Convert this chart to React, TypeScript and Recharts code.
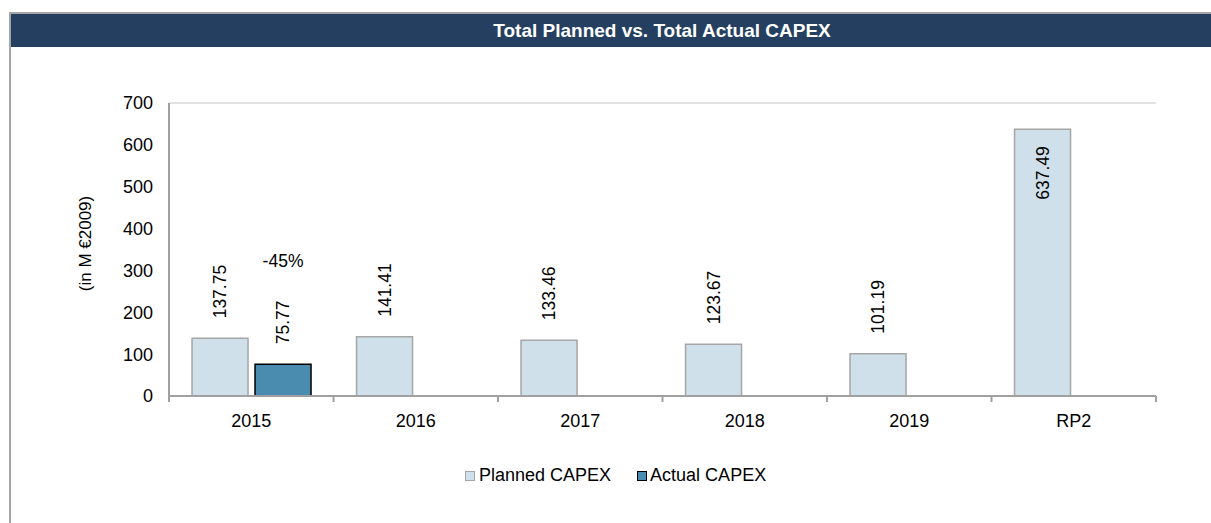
import { BarChart, Bar, XAxis, YAxis, LabelList, Legend, ReferenceLine } from 'recharts';

const categories = ['2015', '2016', '2017', '2018', '2019', 'RP2'];
const plannedCapex = [137.75, 141.41, 133.46, 123.67, 101.19, 637.49];
const actualCapex: (number | null)[] = [75.77, null, null, null, null, null];
const changeLabels: (string | null)[] = ['-45%', null, null, null, null, null];
const yTicks = [0, 100, 200, 300, 400, 500, 600, 700];

const data = categories.map((c, i) => ({
  name: c,
  planned: plannedCapex[i],
  actual: actualCapex[i],
}));

const FONT = '"Liberation Sans", Arial, sans-serif';
const PLANNED_FILL = '#CFE0EA';
const PLANNED_STROKE = '#A6A6A6';
const ACTUAL_FILL = '#4A8BB0';
const AXIS = '#A0A0A0';

const W = 1211;
const H = 523;
const PLOT_LEFT = 169;
const PLOT_RIGHT = 1156;
const PLOT_TOP = 103;
const PLOT_BOTTOM = 396;
const BAND = (PLOT_RIGHT - PLOT_LEFT) / categories.length;

// ticks sit on the category boundaries, labels in the middle
const XTick = (props: any) => {
  const { x, y, payload, index } = props;
  const left = x - BAND / 2;
  const right = x + BAND / 2;
  return (
    <g>
      <line x1={left} y1={y} x2={left} y2={y + 6} stroke={AXIS} strokeWidth={2} />
      {index === categories.length - 1 && (
        <line x1={right} y1={y} x2={right} y2={y + 6} stroke={AXIS} strokeWidth={2} />
      )}
      <text x={x} y={y + 31} textAnchor="middle" fontSize={18} fontFamily={FONT} fill="#000">
        {payload.value}
      </text>
    </g>
  );
};

const RotatedLabel = (props: any) => {
  const { x, y, width, value } = props;
  if (value === null || value === undefined) return null;
  const cx = x + width / 2;
  const inside = value > 500;
  const y0 = inside ? y + 17 : y - 20;
  return (
    <text
      x={cx}
      y={y0}
      transform={`rotate(-90, ${cx}, ${y0})`}
      textAnchor={inside ? 'end' : 'start'}
      dominantBaseline="central"
      fontSize={17.5}
      fontFamily={FONT}
      fill="#000"
    >
      {Number(value).toFixed(2)}
    </text>
  );
};

const ActualLabel = (props: any) => {
  const { x, y, width, value, index } = props;
  if (value === null || value === undefined) return null;
  const cx = x + width / 2;
  const change = changeLabels[index];
  return (
    <g>
      <RotatedLabel {...props} />
      {change && (
        <text x={cx} y={y - 97} textAnchor="middle" fontSize={17.5} fontFamily={FONT} fill="#000">
          {change}
        </text>
      )}
    </g>
  );
};

const LegendContent = () => (
  <div style={{ display: 'flex', alignItems: 'center', fontFamily: FONT, fontSize: 18, color: '#000', whiteSpace: 'nowrap' }}>
    <span style={{ display: 'inline-block', width: 8, height: 8, background: PLANNED_FILL, border: `1px solid ${PLANNED_STROKE}`, marginRight: 4 }} />
    <span style={{ marginRight: 26 }}>Planned CAPEX</span>
    <span style={{ display: 'inline-block', width: 8, height: 8, background: ACTUAL_FILL, border: '1px solid #000', marginRight: 3 }} />
    <span>Actual CAPEX</span>
  </div>
);

export default function App() {
  return (
    <div style={{ position: 'absolute', left: 0, top: 0, width: W, height: H, overflow: 'hidden', background: '#fff' }}>
      <div style={{ position: 'absolute', left: 9, top: 12, width: W - 9, height: H - 12, borderTop: `2px solid ${PLANNED_STROKE}`, borderLeft: `2px solid ${PLANNED_STROKE}`, boxSizing: 'border-box' }} />
      <div style={{ position: 'absolute', left: 11, top: 14, width: W - 11, height: 33, background: '#243F60' }} />
      <div style={{ position: 'absolute', left: 112, top: 14, width: 1100, height: 33, lineHeight: '33px', textAlign: 'center', color: '#fff', fontFamily: FONT, fontWeight: 700, fontSize: 19 }}>
        Total Planned vs. Total Actual CAPEX
      </div>
      <div style={{ position: 'absolute', left: 0, top: 0 }}>
        <BarChart
          width={W}
          height={H}
          data={data}
          margin={{ top: PLOT_TOP, right: W - PLOT_RIGHT, left: 1, bottom: H - PLOT_BOTTOM - 30 }}
          barCategoryGap="14%"
          barGap={7}
        >
          <XAxis
            dataKey="name"
            height={30}
            axisLine={{ stroke: AXIS, strokeWidth: 2 }}
            tickLine={false}
            tickSize={0}
            tickMargin={0}
            tick={<XTick />}
            interval={0}
          />
          <YAxis
            yAxisId="left"
            width={PLOT_LEFT - 1}
            domain={[0, 700]}
            ticks={yTicks}
            axisLine={{ stroke: AXIS, strokeWidth: 2 }}
            tickLine={false}
            tickSize={0}
            tickMargin={16}
            tick={{ fontSize: 18, fontFamily: FONT, fill: '#000' }}
            label={{ value: '(in M €2009)', angle: -90, position: 'center', dy: -6, style: { fontSize: 17, fontFamily: FONT, fill: '#000' } }}
          />
          <YAxis
            yAxisId="right"
            orientation="right"
            width={0}
            domain={[0, 700]}
            axisLine={{ stroke: '#D9D9D9', strokeWidth: 1.5 }}
            tick={false}
            tickLine={false}
          />
          <ReferenceLine yAxisId="left" y={700} stroke="#D9D9D9" strokeWidth={1.5} />
          <Legend
            layout="horizontal"
            verticalAlign="middle"
            align="center"
            content={<LegendContent />}
            wrapperStyle={{ left: 465, top: 465, width: 'auto' }}
          />
          <Bar yAxisId="left" dataKey="planned" name="Planned CAPEX" fill={PLANNED_FILL} stroke={PLANNED_STROKE} strokeWidth={1.5} isAnimationActive={false}>
            <LabelList dataKey="planned" content={<RotatedLabel />} />
          </Bar>
          <Bar yAxisId="left" dataKey="actual" name="Actual CAPEX" fill={ACTUAL_FILL} stroke="#000" strokeWidth={1.5} isAnimationActive={false}>
            <LabelList dataKey="actual" content={<ActualLabel />} />
          </Bar>
        </BarChart>
      </div>
    </div>
  );
}
